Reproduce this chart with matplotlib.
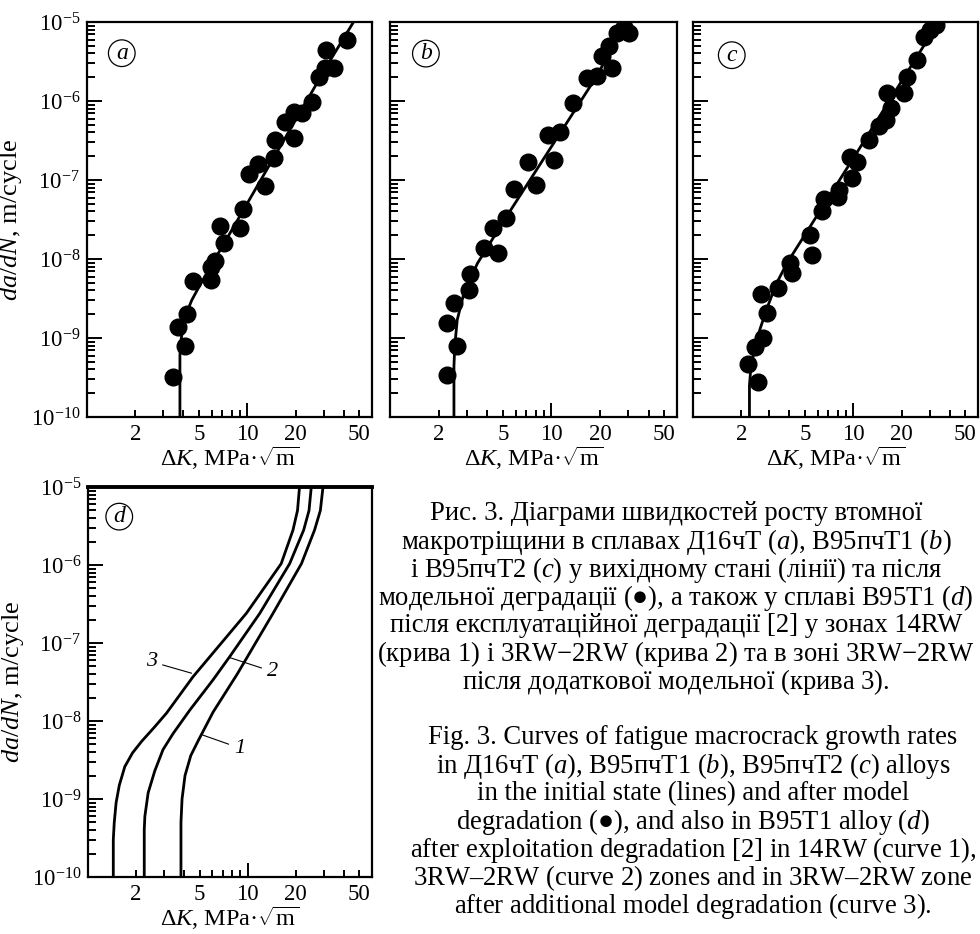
import numpy as np
import matplotlib
matplotlib.use('Agg')
import matplotlib.pyplot as plt
from matplotlib.ticker import FixedLocator, FuncFormatter, NullFormatter

plt.rcParams['font.family'] = ['Liberation Serif', 'DejaVu Serif']
plt.rcParams['mathtext.fontset'] = 'custom'
plt.rcParams['mathtext.rm'] = 'Liberation Serif'
plt.rcParams['mathtext.it'] = 'Liberation Serif:italic'
plt.rcParams['mathtext.bf'] = 'Liberation Serif:bold'

# ---- data (dK in MPa*sqrt(m), da/dN in m/cycle) ----
k_ticks = [2, 5, 10, 20, 50]
k_labels = ['2', '5', '10', '20', '50']
k_minor = [3, 4, 6, 7, 8, 9, 30, 40]
v_exps = [-10, -9, -8, -7, -6, -5]

# (a) Д16чТ
a_pts_k = [3.43, 4.06, 3.69, 4.2, 4.58, 5.96, 5.96, 6.3, 6.78, 7.18, 8.95, 9.35, 10.2, 11.7,
           12.96, 14.8, 14.6, 17.1, 19.5, 19.5, 22.0, 25.4, 27.9, 30.7, 31.2, 34.6, 42.0]
a_pts_v = [3.2e-10, 7.9e-10, 1.36e-9, 2.0e-9, 5.2e-9, 5.5e-9, 8.0e-9, 9.3e-9, 2.6e-8, 1.6e-8,
           2.45e-8, 4.3e-8, 1.2e-7, 1.6e-7, 8.4e-8, 3.2e-7, 1.9e-7, 5.5e-7, 7.3e-7, 3.4e-7,
           7.0e-7, 9.8e-7, 2.0e-6, 2.6e-6, 4.4e-6, 2.6e-6, 5.9e-6]
a_line_k = [3.8, 3.8, 3.85, 3.95, 4.15, 4.5, 5.1, 13.0, 33.0, 46.0]
a_line_v = [1e-10, 6e-10, 9e-10, 1.3e-9, 2.0e-9, 3.0e-9, 4.8e-9, 1.27e-7, 3.3e-6, 1e-5]

# (b) В95пчТ1
b_pts_k = [2.24, 2.61, 2.26, 2.49, 3.09, 3.13, 3.83, 4.64, 4.32, 5.23, 5.9, 8.05, 7.15, 10.4,
           9.5, 11.3, 13.7, 16.5, 19.1, 20.5, 23.7, 22.6, 25.5, 30.1, 28.0]
b_pts_v = [3.4e-10, 7.9e-10, 1.56e-9, 2.8e-9, 4.1e-9, 6.5e-9, 1.36e-8, 1.2e-8, 2.5e-8, 3.3e-8,
           7.6e-8, 8.7e-8, 1.7e-7, 1.8e-7, 3.7e-7, 4.1e-7, 9.3e-7, 1.94e-6, 2.1e-6, 3.7e-6,
           2.6e-6, 4.9e-6, 7.2e-6, 7.2e-6, 8.7e-6]
b_line_k = [2.49, 2.49, 2.52, 2.61, 2.87, 3.48, 5.1, 10.0, 19.6, 28.0]
b_line_v = [1e-10, 4.4e-10, 8e-10, 1.7e-9, 3.7e-9, 8.8e-9, 3.1e-8, 2.64e-7, 2.24e-6, 1e-5]

# (c) В95пчТ2
c_pts_k = [2.56, 2.19, 2.44, 2.75, 2.89, 2.65, 3.41, 4.14, 4.04, 5.52, 5.38, 6.37, 6.59, 7.98,
           8.09, 9.81, 9.49, 10.5, 12.6, 14.4, 16.1, 17.2, 16.2, 20.6, 21.7, 24.8, 27.5, 30.3, 32.6]
c_pts_v = [2.8e-10, 4.7e-10, 7.8e-10, 1.0e-9, 2.06e-9, 3.6e-9, 4.3e-9, 6.6e-9, 8.8e-9, 1.12e-8,
           2.0e-8, 4.06e-8, 5.7e-8, 6.1e-8, 7.5e-8, 1.05e-7, 1.97e-7, 1.7e-7, 3.2e-7, 4.8e-7,
           5.7e-7, 8.1e-7, 1.27e-6, 1.27e-6, 2.04e-6, 3.3e-6, 6.4e-6, 7.9e-6, 9.2e-6]
c_line_k = [2.25, 2.25, 2.3, 2.45, 2.62, 2.9, 3.3, 3.85, 10.5, 34.1]
c_line_v = [1e-10, 2.5e-10, 4.4e-10, 8e-10, 1.3e-9, 2.4e-9, 4.8e-9, 8.8e-9, 2.2e-7, 1e-5]

# (d) В95Т1, curves 1-3
d1_k = [3.82, 3.82, 3.88, 4.05, 4.4, 4.9, 6.07, 8.6, 14.4, 21.7, 26.2, 28.5, 29.6]
d1_v = [1e-10, 5e-10, 1e-9, 2e-9, 3.6e-9, 5.6e-9, 1.3e-8, 4e-8, 2.4e-7, 1.04e-6, 2.8e-6, 5e-6, 1e-5]
d2_k = [2.25, 2.25, 2.27, 2.38, 2.62, 2.95, 3.41, 4.34, 6.06, 7.72, 11.9, 18.3, 22.4, 24.2, 25.0]
d2_v = [1e-10, 4e-10, 6e-10, 1.2e-9, 2.3e-9, 4.3e-9, 6.9e-9, 1.38e-8, 3.36e-8, 6.7e-8, 2.4e-7,
        1.04e-6, 2.8e-6, 5e-6, 1e-5]
d3_k = [1.44, 1.44, 1.46, 1.5, 1.57, 1.7, 1.9, 2.17, 2.6, 3.1, 4.55, 9.8, 16.2, 19.2, 20.5, 21.1]
d3_v = [1e-10, 3e-10, 5e-10, 9e-10, 1.5e-9, 2.6e-9, 3.9e-9, 5.5e-9, 8.3e-9, 1.26e-8, 3.7e-8,
        2.4e-7, 1.04e-6, 2.8e-6, 5e-6, 1e-5]

caption_ua = [
    'Рис. 3. Діаграми швидкостей росту втомної',
    'макротріщини в сплавах Д16чТ ($a$), В95пчТ1 ($b$)',
    'і В95пчТ2 ($c$) у вихідному стані (лінії) та після',
    'модельної деградації (●), а також у сплаві В95Т1 ($d$)',
    'після експлуатаційної деградації [2] у зонах 14RW',
    r'(крива $\mathit{1}$) і 3RW−2RW (крива $\mathit{2}$) та в зоні 3RW−2RW',
    r'після додаткової модельної (крива $\mathit{3}$).',
]
caption_en = [
    'Fig. 3. Curves of fatigue macrocrack growth rates',
    'in Д16чТ ($a$), В95пчТ1 ($b$), В95пчТ2 ($c$) alloys',
    'in the initial state (lines) and after model',
    'degradation (●), and also in В95Т1 alloy ($d$)',
    r'after exploitation degradation [2] in 14RW (curve $\mathit{1}$),',
    r'3RW–2RW (curve $\mathit{2}$) zones and in 3RW–2RW zone',
    r'after additional model degradation (curve $\mathit{3}$).',
]

W, H = 980, 934
fig = plt.figure(figsize=(W / 100, H / 100), dpi=100)

v_major = [10.0 ** e for e in v_exps]
v_minor = [m * 10.0 ** e for e in v_exps[:-1] for m in range(2, 10)]


def add_axes_px(left, top, right, bottom):
    return fig.add_axes([left / W, 1 - bottom / H, (right - left) / W, (bottom - top) / H])


def style_axes(ax, show_ylabels, letter, letter_pos):
    ax.set_xscale('log')
    ax.set_yscale('log')
    ax.set_xlim(1, 60)
    ax.set_ylim(1e-10, 1e-5)
    for sp in ax.spines.values():
        sp.set_linewidth(1.6)
    ax.set_xticks(k_ticks)
    ax.set_xticklabels(k_labels)
    ax.xaxis.set_minor_locator(FixedLocator(k_minor))
    ax.xaxis.set_minor_formatter(NullFormatter())
    ax.yaxis.set_major_locator(FixedLocator(v_major))
    ax.yaxis.set_minor_locator(FixedLocator(v_minor))
    ax.yaxis.set_minor_formatter(NullFormatter())
    ax.yaxis.set_major_formatter(FuncFormatter(lambda v, p: r'$10^{%d}$' % round(np.log10(v))))
    ax.tick_params(which='both', direction='in', top=False, right=False, width=1.4,
                   labelsize=16.5, labelleft=show_ylabels)
    ax.tick_params(axis='x', which='major', length=5, pad=5)
    ax.tick_params(axis='x', which='minor', length=5)
    ax.tick_params(axis='y', which='major', length=11, pad=5)
    ax.tick_params(axis='y', which='minor', length=6)
    ax.xaxis.get_major_ticks()[2].tick1line.set_markersize(10)
    ax.set_xlabel(r'$\Delta K$, MPa·$\sqrt{\mathrm{m}}$', fontsize=17.5, labelpad=0)
    if show_ylabels:
        ax.set_ylabel(r'$da/dN$, m/cycle', fontsize=19)
        ax.yaxis.set_label_coords(-0.22, 0.5)
    ax.text(letter_pos[0], letter_pos[1], letter, transform=ax.transAxes, style='italic',
            fontsize=17, ha='center', va='center',
            bbox=dict(boxstyle='circle,pad=0.12', fc='white', ec='k', lw=0.9))


panels = [
    ((87, 22, 372, 417), a_pts_k, a_pts_v, a_line_k, a_line_v, True, 'a', (0.122, 0.921)),
    ((390, 22, 677, 417), b_pts_k, b_pts_v, b_line_k, b_line_v, False, 'b', (0.125, 0.92)),
    ((693, 22, 978, 417), c_pts_k, c_pts_v, c_line_k, c_line_v, False, 'c', (0.136, 0.916)),
]
for box, pk, pv, lk, lv, ylab, letter, lpos in panels:
    ax = add_axes_px(*box)
    ax.plot(lk, lv, '-', color='k', lw=2)
    ax.plot(pk, pv, 'o', color='k', ms=12, mec='k')
    style_axes(ax, ylab, letter, lpos)

axd = add_axes_px(88, 487, 372, 877)
for ck, cv in [(d1_k, d1_v), (d2_k, d2_v), (d3_k, d3_v)]:
    axd.plot(ck, cv, '-', color='k', lw=2)
style_axes(axd, True, 'd', (0.11, 0.924))
axd.spines['top'].set_linewidth(2.8)

lead = dict(arrowstyle='-', lw=0.8, color='k', shrinkA=2, shrinkB=0)
axd.annotate('3', xy=(4.45, 4.1e-8), xytext=(2.5, 5.75e-8), fontsize=16, style='italic',
             ha='center', va='center', arrowprops=lead)
axd.annotate('2', xy=(7.72, 6.5e-8), xytext=(14.3, 4.3e-8), fontsize=16, style='italic',
             ha='center', va='center', arrowprops=lead)
axd.annotate('1', xy=(5.23, 6.6e-9), xytext=(8.9, 4.5e-9), fontsize=16, style='italic',
             ha='center', va='center', arrowprops=lead)

# captions
line_h = 28.0
for i, s in enumerate(caption_ua):
    fig.text(676 / W, 1 - (514 + i * line_h) / H, s, ha='center', va='center', fontsize=19.2)
for i, s in enumerate(caption_en):
    fig.text(693 / W, 1 - (738 + i * line_h) / H, s, ha='center', va='center', fontsize=19.2)

fig.savefig('out.png', dpi=100)
